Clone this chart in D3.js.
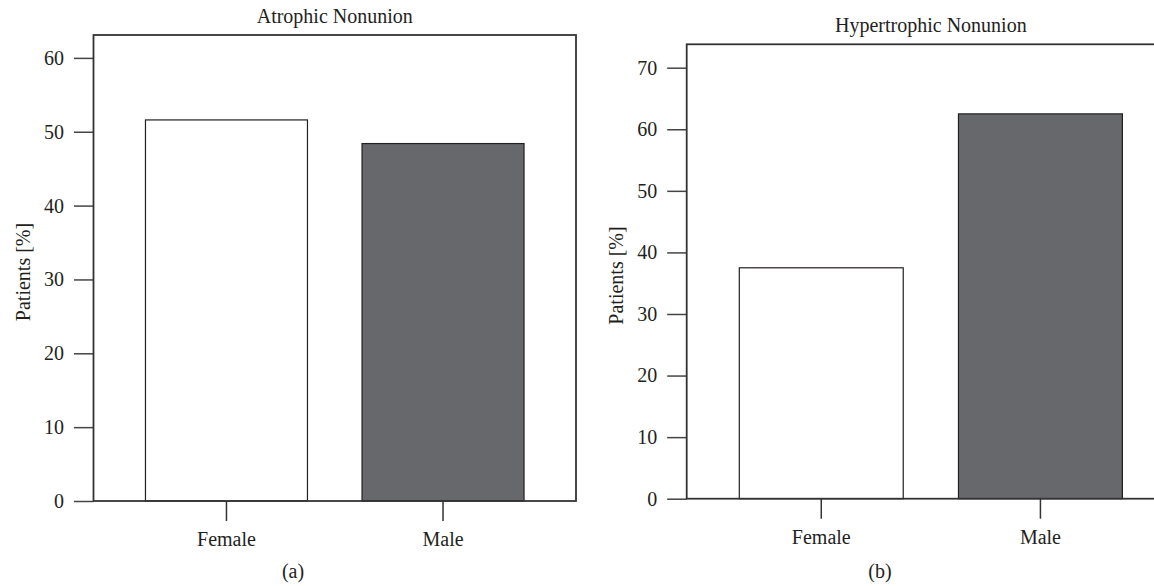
<!DOCTYPE html>
<html>
<head>
<meta charset="utf-8">
<script src="https://cdn.jsdelivr.net/npm/d3@7"></script>
<style>
  html, body { margin: 0; padding: 0; background: #fff; }
  svg text { font-family: "Liberation Serif", "DejaVu Serif", serif; fill: #231f20; }
</style>
</head>
<body>
<svg id="chart" width="1154" height="586"></svg>
<script>
// ---- data ----
const categories = ["Female", "Male"];
const atrophicValues = [51.6, 48.4];
const hypertrophicValues = [37.5, 62.5];
const atrophicTicks = [0, 10, 20, 30, 40, 50, 60];
const hypertrophicTicks = [0, 10, 20, 30, 40, 50, 60, 70];
const panelTitles = ["Atrophic Nonunion", "Hypertrophic Nonunion"];
const panelLabels = ["(a)", "(b)"];
const yLabel = "Patients [%]";

// ---- layout ----
const panels = [
  { values: atrophicValues, ticks: atrophicTicks, title: panelTitles[0], label: panelLabels[0],
    x0: 93.5, x1: 576, y0: 35, y1: 501, ymax: 63.1, labelX: 293 },
  { values: hypertrophicValues, ticks: hypertrophicTicks, title: panelTitles[1], label: panelLabels[1],
    x0: 686.7, x1: 1175, y0: 44.3, y1: 498.7, ymax: 73.8, labelX: 880 }
];
const fills = ["#ffffff", "#67686c"];
const ink = "#231f20";
const fontSize = 20;

const svg = d3.select("#chart");

panels.forEach(p => {
  const g = svg.append("g");
  const x = d3.scaleBand().domain(categories).range([p.x0, p.x1])
    .paddingInner(0.252).paddingOuter(0.24);
  const y = d3.scaleLinear().domain([0, p.ymax]).range([p.y1, p.y0]);

  // bars
  g.selectAll("rect.bar").data(categories).join("rect")
    .attr("class", "bar")
    .attr("x", d => x(d))
    .attr("width", x.bandwidth())
    .attr("y", (d, i) => y(p.values[i]))
    .attr("height", (d, i) => y(0) - y(p.values[i]))
    .attr("fill", (d, i) => fills[i])
    .attr("stroke", ink)
    .attr("stroke-width", 1.2);

  // y axis
  const ya = g.append("g")
    .attr("transform", `translate(${p.x0},0)`)
    .call(d3.axisLeft(y).tickValues(p.ticks).tickSize(19.5).tickPadding(10));
  ya.select(".domain").remove();
  ya.selectAll(".tick line").attr("stroke", "#444").attr("stroke-width", 1.5);
  ya.selectAll(".tick text").attr("font-size", fontSize).attr("font-family", "Liberation Serif").attr("fill", ink);

  // x axis
  const xa = g.append("g")
    .attr("transform", `translate(0,${p.y1})`)
    .call(d3.axisBottom(x).tickSize(20).tickPadding(11));
  xa.select(".domain").remove();
  xa.selectAll(".tick line").attr("stroke", "#333").attr("stroke-width", 1.5);
  xa.selectAll(".tick text").attr("font-size", fontSize).attr("font-family", "Liberation Serif").attr("fill", ink);

  // frame
  g.append("rect")
    .attr("x", p.x0).attr("y", p.y0)
    .attr("width", p.x1 - p.x0).attr("height", p.y1 - p.y0)
    .attr("fill", "none").attr("stroke", "#333").attr("stroke-width", 1.8);

  // title
  g.append("text")
    .attr("x", (p.x0 + p.x1) / 2).attr("y", p.y0 - 12)
    .attr("text-anchor", "middle").attr("font-size", fontSize)
    .text(p.title);

  // y label
  g.append("text")
    .attr("transform", `translate(${p.x0 - 64},${(p.y0 + p.y1) / 2 + 4}) rotate(-90)`)
    .attr("text-anchor", "middle").attr("font-size", fontSize)
    .text(yLabel);

  // panel label
  g.append("text")
    .attr("x", p.labelX).attr("y", 578)
    .attr("text-anchor", "middle").attr("font-size", fontSize)
    .text(p.label);
});
</script>
</body>
</html>
